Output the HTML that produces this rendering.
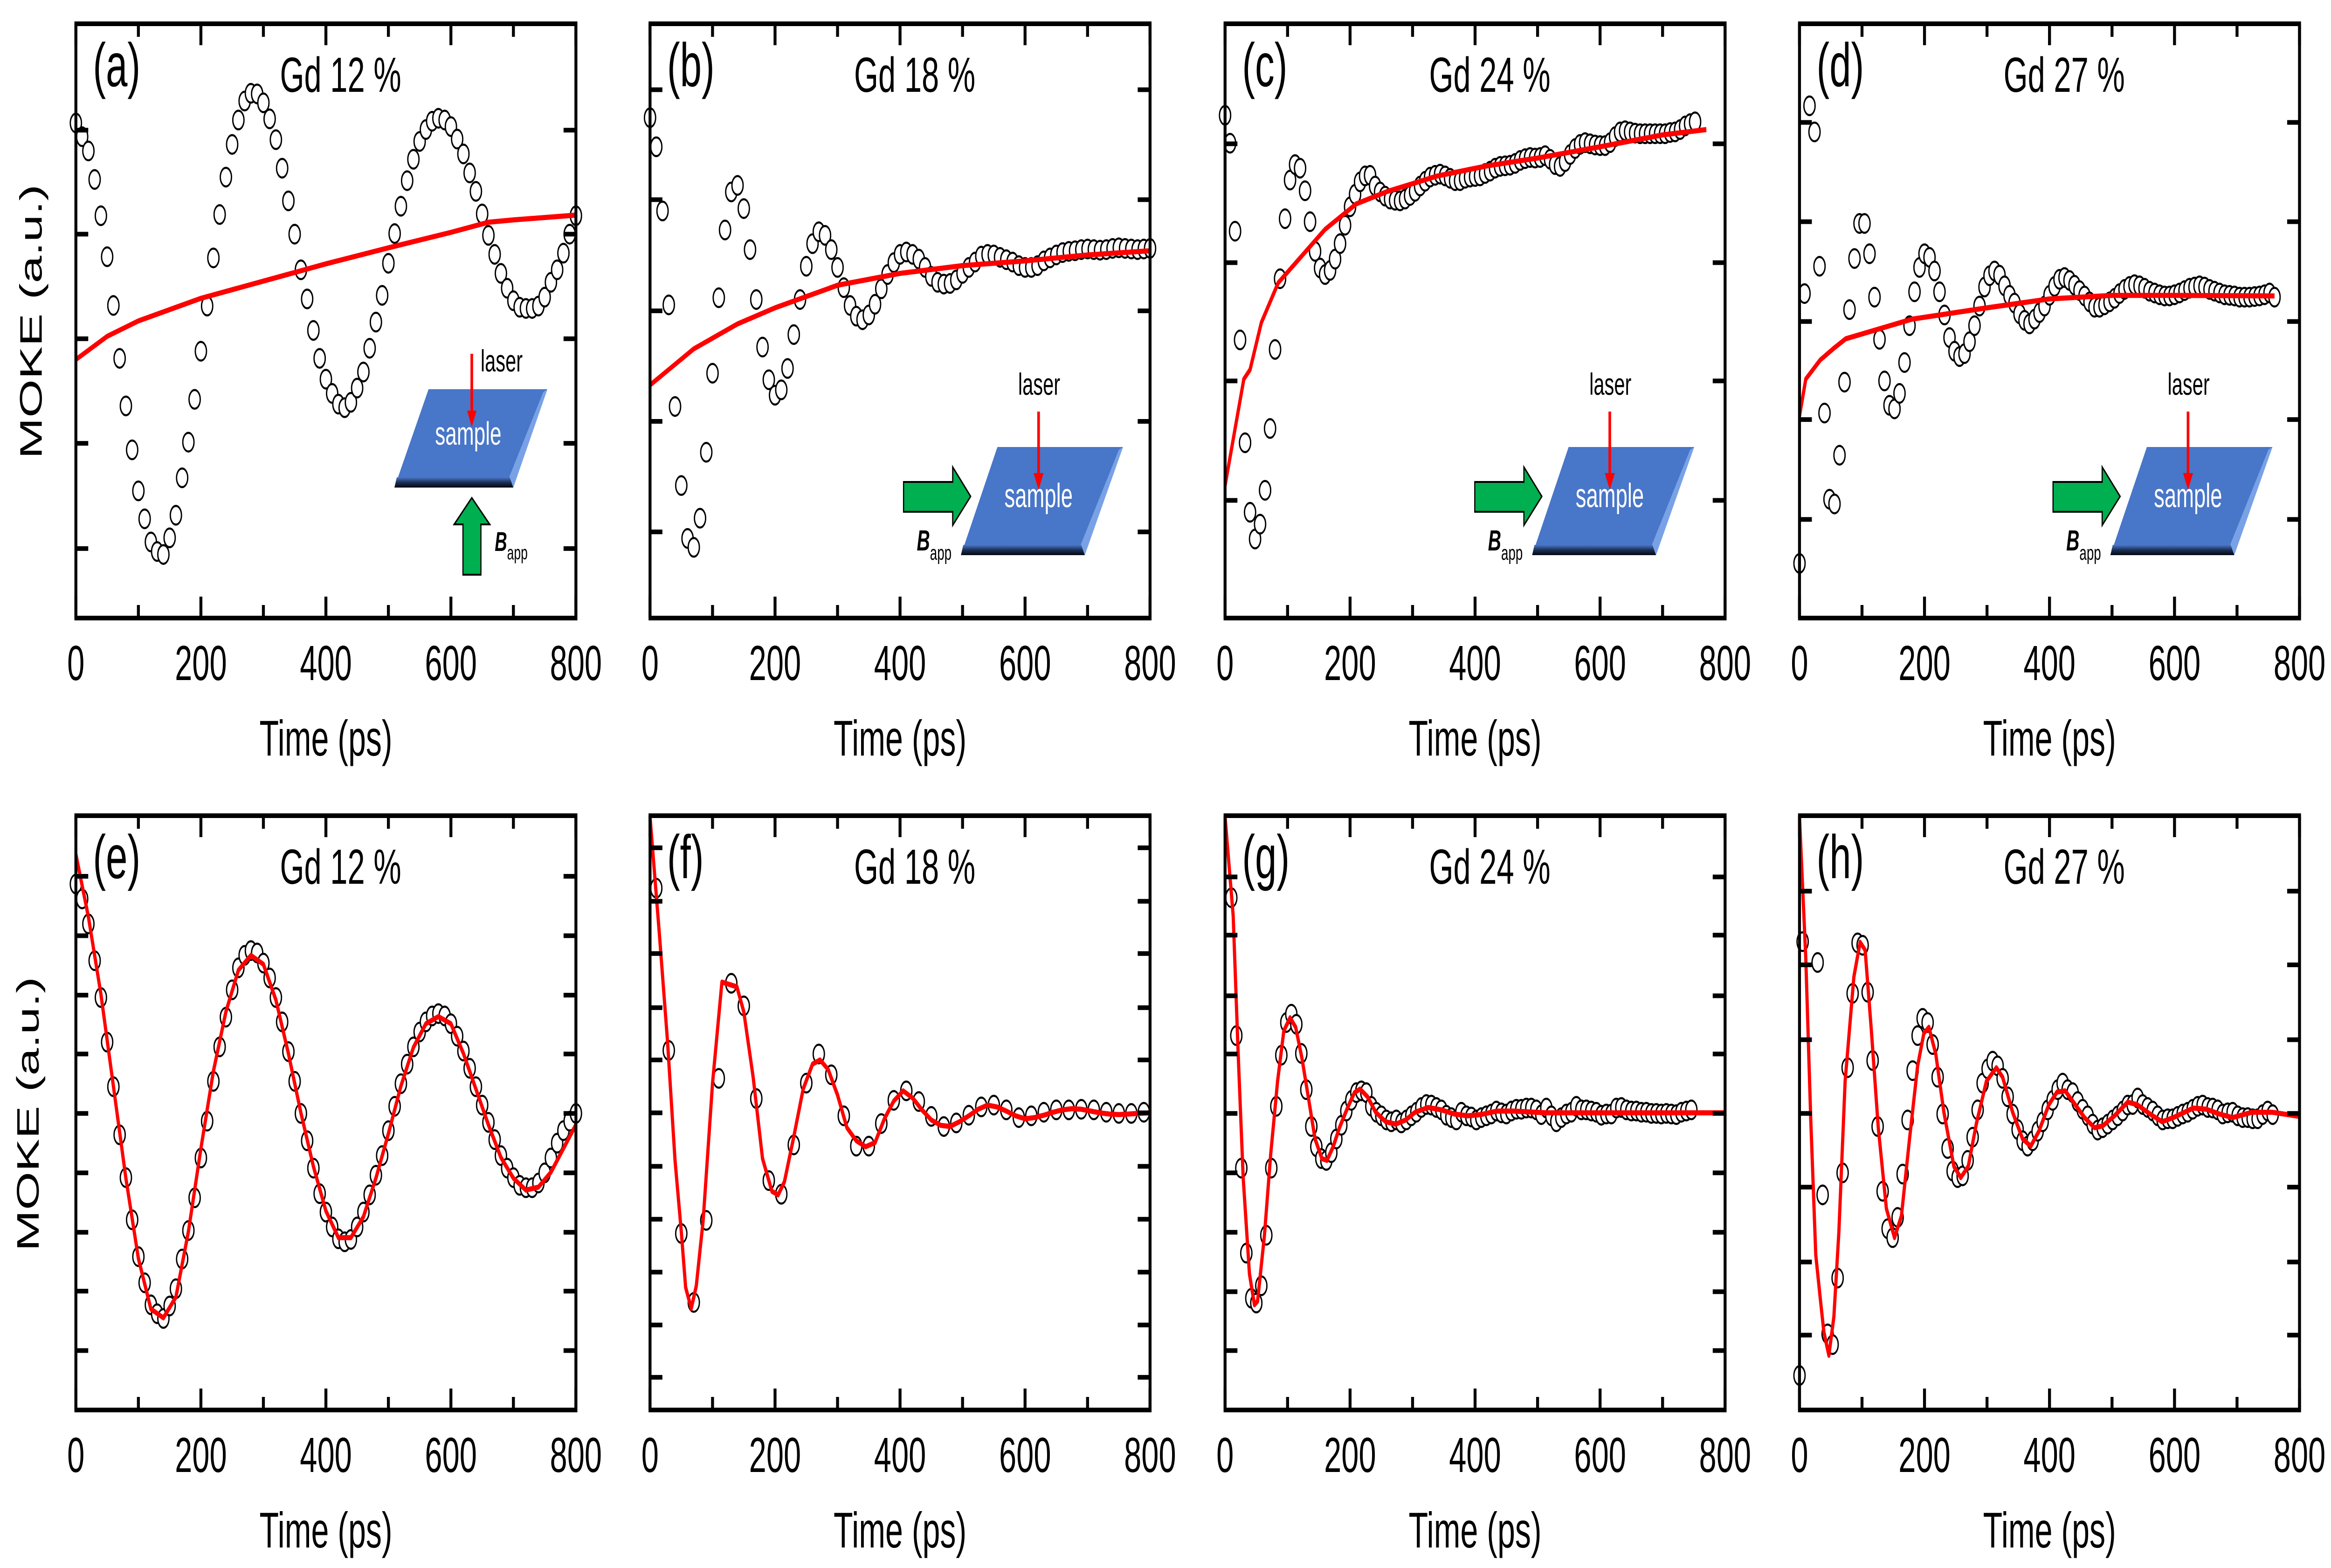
<!DOCTYPE html>
<html><head><meta charset="utf-8"><style>
html,body{margin:0;padding:0;background:#fff;width:100%;height:100%;overflow:hidden;}
svg{display:block;width:100vw;height:100vh;}
text{font-family:"Liberation Sans",sans-serif;}
</style></head>
<body>
<svg id="fig" xmlns="http://www.w3.org/2000/svg" viewBox="0 0 7925 3364" preserveAspectRatio="none">
<defs>
<linearGradient id="edge" x1="0" y1="0" x2="0" y2="1">
<stop offset="0" stop-color="#4a76c8"/><stop offset="0.5" stop-color="#1c2f55"/><stop offset="1" stop-color="#05080f"/>
</linearGradient>
</defs>
</svg>
<script>
// ---- data (normalized MOKE signal, 0 = bottom of frame, 1 = top) ----
const xTicks = [0,100,200,300,400,500,600,700,800];
const xTickLabels = ["0","200","400","600","800"];
const panelLetters = ["(a)","(b)","(c)","(d)","(e)","(f)","(g)","(h)"];
const panelTitles = ["Gd 12 %","Gd 18 %","Gd 24 %","Gd 27 %","Gd 12 %","Gd 18 %","Gd 24 %","Gd 27 %"];

const aStart = 0, aStep = 10;
const aVals = [.833,.81,.786,.738,.677,.608,.526,.437,.357,.283,
.214,.167,.128,.112,.107,.135,.173,.236,.296,.368,
.449,.525,.606,.679,.742,.797,.838,.870,.883,.882,
.867,.840,.805,.757,.702,.646,.586,.537,.484,.437,
.402,.378,.360,.354,.363,.387,.414,.454,.498,.543,
.597,.647,.693,.736,.772,.802,.822,.836,.841,.838,
.827,.806,.781,.749,.718,.680,.644,.612,.580,.555,
.534,.523,.521,.521,.525,.540,.565,.586,.614,.646,.677];
const aFitT = [0,50,100,200,300,400,500,600,660,700,800];
const aFitV = [.435,.474,.500,.538,.567,.596,.623,.649,.666,.670,.678];
const aYTicks = [.821,.646,.470,.294,.117];

const bStart = 0, bStep = 10;
const bVals = [.842,.793,.685,.527,.356,.223,.134,.119,.168,.279,
.412,.539,.653,.717,.728,.689,.620,.536,.456,.401,
.375,.384,.420,.477,.536,.592,.630,.650,.644,.620,
.590,.556,.526,.508,.502,.510,.528,.554,.578,.598,
.612,.616,.612,.604,.590,.575,.565,.562,.563,.569,
.580,.590,.599,.609,.612,.611,.607,.603,.599,.593,
.590,.590,.593,.601,.606,.611,.615,.617,.618,.620,
.621,.620,.619,.620,.622,.623,.622,.621,.620,.621,.622];
const bFitT = [0,70,140,200,300,400,500,600,700,800];
const bFitV = [.392,.453,.495,.522,.560,.580,.593,.601,.611,.618];
const bYTicks = [.889,.704,.517,.331,.145];

const cStart = 0, cStep = 8;
const cVals = [.846,.799,.651,.468,.295,.178,.133,.158,.215,.319,
.452,.571,.672,.737,.763,.757,.719,.667,.617,.589,
.578,.585,.604,.630,.661,.692,.713,.734,.744,.745,
.727,.717,.710,.705,.703,.702,.705,.711,.718,.727,
.735,.742,.745,.747,.744,.740,.736,.736,.740,.742,
.743,.744,.748,.752,.757,.760,.761,.762,.765,.770,
.773,.775,.774,.775,.778,.772,.763,.760,.768,.780,
.790,.797,.800,.798,.796,.795,.795,.800,.810,.818,
.820,.818,.816,.815,.815,.815,.815,.815,.815,.817,
.818,.822,.828,.832,.835];
const cFitT = [0,30,40,58,85,130,160,210,260,340,420,500,600,700,770];
const cFitV = [.223,.402,.418,.497,.564,.618,.654,.697,.718,.744,.761,.774,.793,.813,.822];
const cYTicks = [.798,.598,.399,.198];

const dStart = 0, dStep = 8;
const dVals = [.092,.546,.862,.818,.592,.345,.200,.192,.274,.397,
.519,.605,.664,.664,.613,.540,.469,.399,.358,.352,
.378,.430,.492,.549,.590,.613,.607,.584,.549,.510,
.472,.449,.440,.445,.465,.492,.525,.557,.576,.584,
.577,.559,.543,.530,.512,.501,.495,.503,.514,.525,
.543,.558,.570,.573,.568,.560,.551,.542,.532,.523,
.523,.527,.532,.538,.546,.553,.558,.561,.559,.555,
.550,.547,.544,.542,.542,.544,.547,.551,.555,.557,
.559,.557,.553,.550,.547,.544,.543,.542,.540,.540,
.540,.541,.542,.544,.547,.540];
const dFitT = [0,10,33,55,74,180,300,400,500,600,760];
const dFitV = [.340,.402,.434,.454,.470,.503,.522,.537,.543,.543,.542];
const dYTicks = [.834,.667,.499,.334,.166];

const eStart = 0, eStep = 10;
const eVals = [.885,.860,.818,.756,.694,.619,.544,.463,.391,.320,
.258,.214,.177,.162,.154,.175,.204,.254,.302,.357,
.424,.486,.553,.611,.661,.707,.744,.765,.773,.769,
.752,.727,.694,.653,.603,.553,.499,.453,.407,.364,
.333,.308,.288,.283,.287,.308,.333,.362,.395,.428,
.470,.511,.549,.582,.611,.636,.653,.663,.667,.663,
.650,.629,.604,.575,.544,.513,.484,.455,.428,.407,
.391,.378,.374,.374,.382,.399,.424,.449,.470,.486,.499];
const eFitT = [0,20,40,60,80,100,120,140,160,180,200,220,240,260,280,300,320,340,360,380,400,420,440,460,480,500,520,540,560,580,600,620,640,660,680,700,720,740,760,780,800];
const eFitV = [.935,.83,.70,.545,.39,.255,.17,.155,.19,.30,.44,.57,.67,.74,.765,.75,.69,.60,.50,.41,.335,.29,.29,.325,.39,.465,.545,.61,.65,.662,.65,.60,.54,.48,.425,.39,.37,.375,.40,.44,.48];
const eYTicks = [.898,.798,.698,.599,.499,.399,.299,.200,.100];

const fStart = 10, fStep = 20;
const fVals = [.878,.605,.297,.181,.319,.558,.718,.680,.524,.386,
.363,.446,.550,.599,.564,.495,.444,.444,.482,.521,
.537,.519,.494,.477,.483,.496,.510,.513,.505,.492,
.495,.501,.505,.505,.506,.505,.501,.499,.499,.501];
const fFitT = [0,15,28,40,50,57,66,74,85,100,115,139,150,165,180,195,205,215,230,245,260,272,285,300,315,330,345,360,375,390,405,420,435,450,465,480,495,510,525,540,555,570,585,600,615,630,645,660,675,690,705,720,735,750,765,780,800];
const fFitV = [.998,.80,.62,.42,.30,.206,.171,.209,.319,.55,.72,.712,.67,.56,.423,.368,.362,.384,.46,.54,.582,.589,.573,.53,.475,.453,.443,.45,.49,.52,.537,.525,.505,.488,.479,.477,.485,.495,.506,.513,.51,.503,.495,.49,.492,.496,.501,.505,.507,.506,.503,.500,.498,.497,.498,.499,.500];
const fYTicks = [.946,.856,.768,.677,.589,.500,.410,.321,.232,.143,.055];

const gStart = 10, gStep = 8;
const gVals = [.862,.630,.407,.264,.188,.180,.209,.294,.407,.511,
.597,.652,.666,.649,.600,.539,.477,.443,.423,.420,
.433,.456,.479,.503,.521,.534,.537,.534,.511,.501,
.495,.488,.485,.488,.483,.488,.495,.501,.509,.514,
.513,.509,.505,.496,.492,.488,.501,.495,.493,.488,
.492,.495,.498,.503,.500,.498,.503,.506,.506,.508,
.508,.505,.497,.508,.495,.485,.492,.498,.501,.511,
.505,.505,.503,.501,.496,.498,.498,.508,.509,.505,
.503,.503,.501,.501,.499,.499,.498,.499,.498,.497,
.501,.503,.505];
const gFitT = [0,13,21,29,39,47,52,63,73,84,94,104,113,123,134,144,155,163,173,183,197,207,216,228,241,257,273,289,304,325,346,367,388,409,435,462,514,776,800];
const gFitV = [.998,.832,.599,.391,.229,.177,.183,.294,.430,.553,.638,.660,.644,.592,.521,.456,.423,.420,.443,.475,.511,.534,.540,.527,.501,.485,.481,.488,.501,.509,.505,.498,.495,.497,.503,.503,.500,.500,.500];
const gYTicks = [.897,.799,.697,.599,.499,.399,.299,.199,.100];

const hHeadT = [0,5,29];
const hStart = 37, hStep = 8;
const hHeadVals = [.058,.788,.753];
const hVals = [.362,.128,.110,.222,.399,.576,.701,.786,.782,.703,
.588,.477,.368,.305,.290,.324,.397,.488,.571,.630,
.659,.652,.615,.560,.498,.440,.402,.391,.394,.420,
.459,.505,.550,.574,.587,.579,.558,.527,.498,.472,
.453,.444,.453,.469,.485,.505,.521,.539,.550,.539,
.534,.519,.506,.495,.481,.471,.475,.481,.488,.495,
.503,.513,.514,.525,.514,.509,.503,.495,.488,.490,
.490,.494,.498,.501,.506,.511,.513,.509,.508,.505,
.498,.500,.501,.495,.492,.492,.490,.490,.497,.503,.497];
const hFitT = [0,10,18,26,33,39,47,55,63,73,87,97,105,115,126,139,152,163,176,189,199,207,218,231,247,258,270,283,299,315,325,341,357,370,383,399,412,425,441,456,472,485,504,525,540,561,580,598,630,651,672,693,724,756,800];
const hFitV = [.998,.761,.488,.261,.190,.131,.092,.157,.300,.553,.729,.787,.774,.638,.475,.339,.290,.326,.456,.579,.634,.644,.599,.501,.410,.391,.410,.482,.553,.576,.560,.501,.456,.444,.469,.514,.535,.537,.514,.492,.475,.478,.495,.518,.514,.498,.485,.492,.508,.506,.498,.492,.501,.501,.494];
const hYTicks = [.873,.749,.623,.499,.375,.249,.126];

// ---- layout ----
const NS = "http://www.w3.org/2000/svg";
const svg = document.getElementById("fig");
const colLeft = [258, 2210, 4165, 6118];
const rowTop = [51, 1750];
const PW = 1700, PH = 1275;

function mk(tag, attrs, parent) {
  const e = document.createElementNS(NS, tag);
  for (const k in attrs) e.setAttribute(k, attrs[k]);
  (parent || svg).appendChild(e);
  return e;
}
function seq(start, step, n) { const r = []; for (let i = 0; i < n; i++) r.push(start + step * i); return r; }

const panels = [
  {t: seq(aStart, aStep, aVals.length), v: aVals, ft: aFitT, fv: aFitV, yt: aYTicks, inset: "vertical"},
  {t: seq(bStart, bStep, bVals.length), v: bVals, ft: bFitT, fv: bFitV, yt: bYTicks, inset: "horizontal", dx: 0},
  {t: seq(cStart, cStep, cVals.length), v: cVals, ft: cFitT, fv: cFitV, yt: cYTicks, inset: "horizontal", dx: -13},
  {t: seq(dStart, dStep, dVals.length), v: dVals, ft: dFitT, fv: dFitV, yt: dYTicks, inset: "horizontal", dx: 0},
  {t: seq(eStart, eStep, eVals.length), v: eVals, ft: eFitT, fv: eFitV, yt: eYTicks},
  {t: seq(fStart, fStep, fVals.length), v: fVals, ft: fFitT, fv: fFitV, yt: fYTicks},
  {t: seq(gStart, gStep, gVals.length), v: gVals, ft: gFitT, fv: gFitV, yt: gYTicks},
  {t: hHeadT.concat(seq(hStart, hStep, hVals.length)), v: hHeadVals.concat(hVals), ft: hFitT, fv: hFitV, yt: hYTicks}
];

panels.forEach((p, i) => {
  const L = colLeft[i % 4], T = rowTop[Math.floor(i / 4)];
  const xS = t => L + t / 800 * PW;
  const yS = v => T + PH - v * PH;
  const g = mk("g", {});
  
  

  const cp = mk("clipPath", {id: "clip" + i}, g);
  mk("rect", {x: L, y: T, width: PW, height: PH}, cp);

  if (p.inset) drawInset(g, L, T, p.inset, p.dx || 0);

  const pts = mk("g", {}, g);
  
  
  p.v.forEach((v, k) => {
    const c = mk("ellipse", {cx: xS(p.t[k]), cy: yS(v), rx: 19, ry: 20, fill: "#fff", stroke: "#000", "stroke-width": 4.5}, pts);
    
    
  });

  const d = p.fv.map((v, k) => (k ? "L" : "M") + xS(p.ft[k]).toFixed(1) + " " + yS(v).toFixed(1)).join(" ");
  const ln = mk("path", {d: d, fill: "none", stroke: "#ff0000", "stroke-width": 11, "stroke-linejoin": "round", "clip-path": "url(#clip" + i + ")"}, g);
  
  

  const tk = mk("g", {stroke: "#000", "stroke-width": 10}, g);
  
  
  xTicks.forEach(t => {
    const len = (t % 200 === 0) ? 46 : 28;
    mk("line", {x1: xS(t), y1: T + PH, x2: xS(t), y2: T + PH - len}, tk);
    mk("line", {x1: xS(t), y1: T, x2: xS(t), y2: T + len}, tk);
  });
  p.yt.forEach(v => {
    mk("line", {x1: L, y1: yS(v), x2: L + 42, y2: yS(v)}, tk);
    mk("line", {x1: L + PW, y1: yS(v), x2: L + PW - 42, y2: yS(v)}, tk);
  });

  const fr = mk("rect", {x: L, y: T, width: PW, height: PH, fill: "none", stroke: "#000", "stroke-width": 10}, g);
  
  

  xTickLabels.forEach((lab, k) => {
    const tx = mk("text", {x: xS(k * 200), y: T + PH + 133, "font-size": 106, "text-anchor": "middle"}, g);
    tx.textContent = lab;
    
    
  });
  const xt = mk("text", {x: L + PW / 2, y: T + PH + 295, "font-size": 108, "text-anchor": "middle"}, g);
  xt.textContent = "Time (ps)";
  
  

  const pl = mk("text", {x: L + 58, y: T + 134, "font-size": 132}, g);
  pl.textContent = panelLetters[i];
  
  

  const ti = mk("text", {x: L + 900, y: T + 146, "font-size": 106, "text-anchor": "middle"}, g);
  ti.textContent = panelTitles[i];
  
  
});

[[105, 690], [95, 2390]].forEach(([x, y]) => {
  const yl = mk("text", {x: x, y: y, "font-size": 106, "text-anchor": "middle", "dominant-baseline": "central", transform: "rotate(-90 " + x + " " + y + ")"});
  yl.textContent = "MOKE (a.u.)";
  
  
});

function slab(g, L, T, pts) {
  const P = pts.map(q => [L + q[0], T + q[1]]);
  const s = mk("g", {}, g);
  
  
  mk("polygon", {points: P.map(q => q.join(",")).join(" "), fill: "#4876c8"}, s);
  mk("polygon", {points: [P[1], [P[1][0] - 14, P[1][1] + 6], [P[2][0] - 14, P[2][1] - 22], P[2]].map(q => q.join(",")).join(" "), fill: "#79a2e6"}, s);
  mk("polygon", {points: [[P[3][0] + 8, P[3][1] - 22], [P[2][0] - 12, P[2][1] - 22], P[2], P[3]].map(q => q.join(",")).join(" "), fill: "url(#edge)"}, s);
}

function drawInset(g, L, T, kind, dx) {
  const ig = mk("g", {}, g);
  
  
  if (kind === "vertical") {
    slab(ig, L, T, [[1199, 784], [1603, 784], [1487, 995], [1083, 995]]);
    const ax = L + 1346;
    mk("line", {x1: ax, y1: T + 708, x2: ax, y2: T + 835, stroke: "#ff0000", "stroke-width": 9}, ig);
    mk("polygon", {points: `${ax - 16},${T + 830} ${ax + 16},${T + 830} ${ax},${T + 865}`, fill: "#ff0000"}, ig);
    const la = mk("text", {x: L + 1376, y: T + 746, "font-size": 66}, ig);
    la.textContent = "laser";
    
    
    const sa = mk("text", {x: L + 1334, y: T + 903, "font-size": 70, fill: "#fff", "text-anchor": "middle"}, ig);
    sa.textContent = "sample";
    
    
    const ar = mk("polygon", {points: `${L + 1346},${T + 1017} ${L + 1407},${T + 1074} ${L + 1377},${T + 1074} ${L + 1377},${T + 1182} ${L + 1316},${T + 1182} ${L + 1316},${T + 1074} ${L + 1286},${T + 1074}`, fill: "#00af50", stroke: "#000", "stroke-width": 4}, ig);
    
    
    const bt = mk("text", {x: L + 1424, y: T + 1131, "font-size": 58, "font-weight": "bold", "font-style": "italic"}, ig);
    bt.textContent = "B";
    
    
    const st = mk("tspan", {"font-size": 42, "font-weight": "normal", "font-style": "normal", dy: 18}, bt);
    st.textContent = "app";
  } else {
    const X = L + dx;
    slab(ig, X, T, [[1181, 908], [1608, 908], [1478, 1140], [1057, 1140]]);
    const ax = X + 1321;
    mk("line", {x1: ax, y1: T + 832, x2: ax, y2: T + 968, stroke: "#ff0000", "stroke-width": 9}, ig);
    mk("polygon", {points: `${ax - 17},${T + 964} ${ax + 17},${T + 964} ${ax},${T + 1000}`, fill: "#ff0000"}, ig);
    const la = mk("text", {x: X + 1323, y: T + 796, "font-size": 66, "text-anchor": "middle"}, ig);
    la.textContent = "laser";
    
    
    const sa = mk("text", {x: X + 1321, y: T + 1037, "font-size": 72, fill: "#fff", "text-anchor": "middle"}, ig);
    sa.textContent = "sample";
    
    
    const ar = mk("polygon", {points: `${X + 862},${T + 983} ${X + 1029},${T + 983} ${X + 1029},${T + 951} ${X + 1090},${T + 1014} ${X + 1029},${T + 1076} ${X + 1029},${T + 1047} ${X + 862},${T + 1047}`, fill: "#00af50", stroke: "#000", "stroke-width": 4}, ig);
    
    
    const bt = mk("text", {x: X + 907, y: T + 1130, "font-size": 62, "font-weight": "bold", "font-style": "italic"}, ig);
    bt.textContent = "B";
    
    
    const st = mk("tspan", {"font-size": 44, "font-weight": "normal", "font-style": "normal", dy: 20}, bt);
    st.textContent = "app";
  }
}
</script>
</body></html>
